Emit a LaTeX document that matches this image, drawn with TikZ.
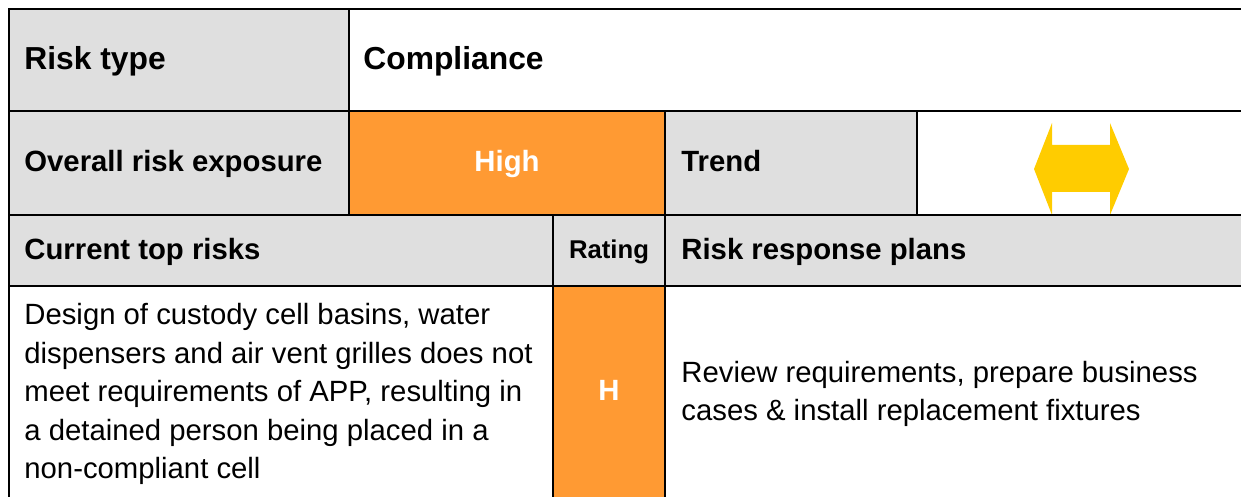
\documentclass[tikz,border=0pt]{standalone}
\usepackage{fontspec}
\setmainfont{Liberation Sans}
\definecolor{cellgray}{HTML}{DFDFDF}
\definecolor{riskorange}{HTML}{FF9A33}
\definecolor{trendyellow}{HTML}{FFCC00}
\begin{document}
\begin{tikzpicture}[x=0.5pt,y=-0.5pt,
  grid/.style={line width=1.25pt, black, line cap=rect},
  headA/.style={anchor=base west, inner sep=0pt, font=\fontsize{15.9}{19}\selectfont\bfseries},
  headB/.style={anchor=base west, inner sep=0pt, font=\fontsize{14.65}{18}\selectfont\bfseries},
  headC/.style={anchor=base, inner sep=0pt, font=\fontsize{14.65}{18}\selectfont\bfseries, text=white},
  headR/.style={anchor=base, inner sep=0pt, font=\fontsize{12.85}{15}\selectfont\bfseries},
  body/.style={anchor=base west, inner sep=0pt, font=\fontsize{14.65}{18}\selectfont}]
\useasboundingbox (0,0) rectangle (1241,497);
% cell fills
\fill[cellgray] (9,9) rectangle (349,111);
\fill[cellgray] (9,111) rectangle (349,215);
\fill[riskorange] (349,111) rectangle (665,215);
\fill[cellgray] (665,111) rectangle (917,215);
\fill[cellgray] (9,215) rectangle (1241,286);
\fill[riskorange] (553,286) rectangle (665,497);
% trend arrow
\fill[trendyellow] (1034,169) -- (1052,123) -- (1052,145) -- (1110,145) -- (1110,123)
  -- (1129,169) -- (1110,215) -- (1110,192) -- (1052,192) -- (1052,215) -- cycle;
% grid
\draw[grid] (9,9) -- (1241,9);
\draw[grid] (9,111) -- (1241,111);
\draw[grid] (9,215) -- (1241,215);
\draw[grid] (9,286) -- (1241,286);
\draw[grid] (9,9) -- (9,497);
\draw[grid] (349,9) -- (349,215);
\draw[grid] (665,111) -- (665,497);
\draw[grid] (917,111) -- (917,215);
\draw[grid] (553,215) -- (553,497);
% texts
\node[headA] (risktype) at (24,70) {Risk type};
\node[headA] (compliance) at (363,70) {Compliance};
\node[headB] (overall) at (24,171.5) {Overall risk exposure};
\node[headC] (high) at (507,171.5) {High};
\node[headB] (trend) at (681,171.5) {Trend};
\node[headB] (current) at (24,259) {Current top risks};
\node[headR] (rating) at (609,258) {Rating};
\node[headB] (plans) at (681,259) {Risk response plans};
\node[body] (r1) at (24,324.5) {Design of custody cell basins, water};
\node[body] (r2) at (24,363) {dispensers and air vent grilles does not};
\node[body] (r3) at (24,401.5) {meet requirements of APP, resulting in};
\node[body] (r4) at (24,440) {a detained person being placed in a};
\node[body] (r5) at (24,478.5) {non-compliant cell};
\node[headC] (h) at (609,400.5) {H};
\node[body] (p1) at (681,382) {Review requirements, prepare business};
\node[body] (p2) at (681,420) {cases \& install replacement fixtures};
\end{tikzpicture}
\end{document}
